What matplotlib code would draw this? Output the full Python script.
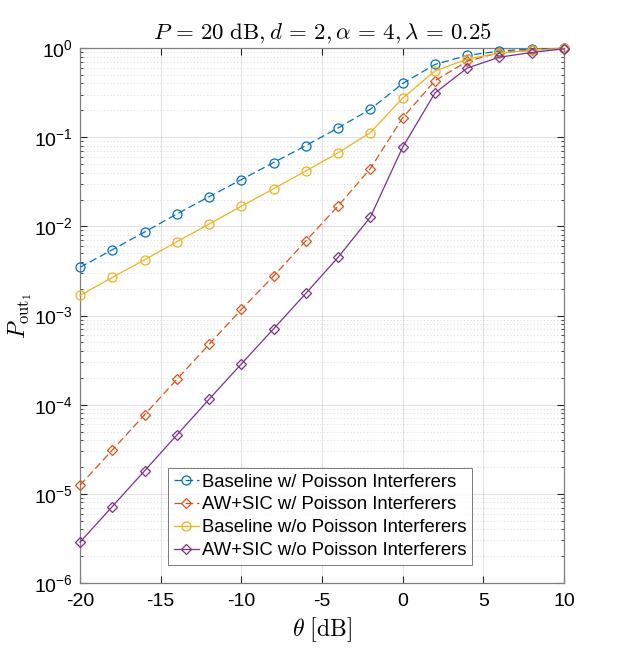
import matplotlib
matplotlib.use("Agg")
import matplotlib.pyplot as plt
import numpy as np

theta = [-20, -18, -16, -14, -12, -10, -8, -6, -4, -2, 0, 2, 4, 6, 8, 10]

baseline_w = [3.47e-3, 5.46e-3, 8.63e-3, 1.375e-2, 2.15e-2, 3.34e-2, 5.19e-2, 8.05e-2,
              0.127, 0.206, 0.40, 0.654, 0.826, 0.925, 0.975, 0.99]
awsic_w = [1.25e-5, 3.09e-5, 7.7e-5, 1.92e-4, 4.75e-4, 1.17e-3, 2.77e-3, 6.87e-3,
           1.69e-2, 4.45e-2, 0.165, 0.43, 0.71, 0.89, 0.94, 0.99]
baseline_wo = [1.68e-3, 2.67e-3, 4.21e-3, 6.71e-3, 1.06e-2, 1.68e-2, 2.64e-2, 4.18e-2,
               6.67e-2, 0.1127, 0.274, 0.552, 0.752, 0.879, 0.94, 0.99]
awsic_wo = [2.87e-6, 7.2e-6, 1.81e-5, 4.56e-5, 1.15e-4, 2.86e-4, 7.1e-4, 1.77e-3,
            4.5e-3, 1.27e-2, 7.73e-2, 0.313, 0.596, 0.79, 0.89, 0.98]

labels = ["Baseline w/ Poisson Interferers", "AW+SIC w/ Poisson Interferers",
          "Baseline w/o Poisson Interferers", "AW+SIC w/o Poisson Interferers"]
xticks = [-20, -15, -10, -5, 0, 5, 10]

colors = [(0, 0.447, 0.741), (0.85, 0.325, 0.098), (0.929, 0.694, 0.125), (0.494, 0.184, 0.556)]

plt.rcParams['mathtext.fontset'] = 'cm'
plt.rcParams['font.family'] = ['Liberation Sans', 'DejaVu Sans']

fig = plt.figure(figsize=(6.23, 6.55), dpi=100)
ax = fig.add_axes([0.1284, 0.1099, 0.7769, 0.8168])

series = [baseline_w, awsic_w, baseline_wo, awsic_wo]
styles = [('o', (0, (6, 3))), ('D', (0, (6, 3))), ('o', '-'), ('D', '-')]
for y, lab, c, (m, ls) in zip(series, labels, colors, styles):
    ms = 6.5 if m == 'o' else 5.5
    ax.semilogy(theta, y, color=c, linestyle=ls, linewidth=0.9, marker=m,
                markersize=ms, markerfacecolor='none', markeredgecolor=c,
                markeredgewidth=0.9, label=lab, clip_on=False, zorder=3)

ax.set_xlim(-20, 10)
ax.set_ylim(1e-6, 1)
ax.set_xticks(xticks)
ax.set_xticklabels([str(t) for t in xticks])
ax.set_yticks([10.0**k for k in range(-6, 1)])
ax.set_yticklabels(["$\\mathregular{10^{%d}}$" % k for k in range(-6, 1)])

ax.grid(True, which='major', color=(0.15, 0.15, 0.15), alpha=0.13, linewidth=0.8)
ax.grid(True, which='minor', axis='y', color=(0.15, 0.15, 0.15), alpha=0.15,
        linestyle=(0, (1, 2)), linewidth=0.8)
ax.tick_params(which='both', direction='in', top=True, right=True, colors=(0.15, 0.15, 0.15),
               labelsize=14, labelcolor='black')
ax.tick_params(axis='x', which='major', pad=7)
ax.tick_params(axis='y', which='major', pad=5)
ax.tick_params(which='major', length=5)
ax.tick_params(which='minor', length=2.5)
for s in ax.spines.values():
    s.set_color((0.5, 0.5, 0.5))
    s.set_linewidth(0.9)

ax.set_title(r"$P\,=\,20\ \mathrm{dB}, d\,=\,2, \alpha\,=\,4, \lambda\,=\,0.25$", fontsize=16.5, pad=7)
ax.set_xlabel(r"$\theta\ [\mathrm{dB}]$", fontsize=17, labelpad=4)
ax.set_ylabel(r"$P_{\mathrm{out}_1}$", fontsize=17, labelpad=0)

leg = ax.legend(loc='lower left', bbox_to_anchor=(0.182, 0.034), fontsize=13.3,
                frameon=True, fancybox=False, edgecolor=(0.35, 0.35, 0.35),
                borderpad=0.3, labelspacing=0.32, handlelength=1.35, handletextpad=0.2,
                borderaxespad=0)
leg.get_frame().set_linewidth(0.7)

fig.savefig("out.png", dpi=100)
